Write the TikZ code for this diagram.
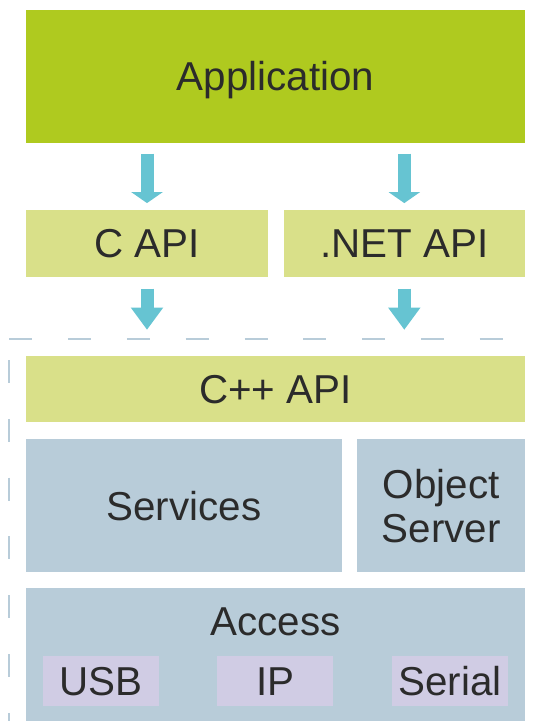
\documentclass[tikz,border=0pt]{standalone}
\usepackage{fontspec}
\setmainfont{Liberation Sans}
\usetikzlibrary{arrows.meta}
\definecolor{appgreen}{RGB}{175,202,31}
\definecolor{apigreen}{RGB}{217,224,137}
\definecolor{layerblue}{RGB}{184,204,217}
\definecolor{portlilac}{RGB}{208,204,228}
\definecolor{arrowblue}{RGB}{102,196,210}
\definecolor{textgray}{RGB}{43,43,43}
\tikzset{
  block/.style={rectangle, inner sep=0pt, text=textgray,
    font=\fontsize{40.5}{44.5}\selectfont, text height=29bp, text depth=0pt},
  api/.style={block, fill=apigreen},
  layer/.style={block, fill=layerblue},
  port/.style={block, fill=portlilac, minimum width=116bp, minimum height=49.7bp},
  flow/.style={draw=arrowblue, line width=13bp, -{Triangle[width=31bp,length=11bp]}},
  flowlong/.style={draw=arrowblue, line width=13bp, -{Triangle[width=31bp,length=22.3bp]}},
  frame/.style={draw=layerblue, line width=2.2bp, dash pattern=on 23bp off 35.8bp}
}
\begin{document}
\begin{tikzpicture}[x=1bp,y=-1bp]
  \useasboundingbox (0,0) rectangle (537,721);
  % top part
  \node[block, fill=appgreen, minimum width=499bp, minimum height=132.7bp] (app) at (275.5,76.35) {Application};
  \node[api, minimum width=242bp, minimum height=66.7bp] (capi) at (147,243.35) {C API};
  \node[api, minimum width=241.4bp, minimum height=66.7bp] (netapi) at (404.3,243.35) {.NET API};
  % library part
  \draw[frame] (9.3,339.3) -- (525,339.3);
  \draw[frame] (9,360) -- (9,721);
  \node[api, minimum width=499bp, minimum height=66.6bp] (cpp) at (275.5,389) {C++ API};
  \node[layer, minimum width=315.7bp, minimum height=133bp] (services) at (183.85,505.8) {Services};
  \node[layer, minimum width=167.7bp, minimum height=133bp, align=center, text height={}, text depth={}] (objserver) at (441.15,505.8) {Object\\Server};
  \node[layer, minimum width=499bp, text height=46.7bp, text depth=86bp] (access) at (275.5,654.65) {Access};
  \node[port] (usb) at (101,680.85) {USB};
  \node[port] (ip) at (275.3,680.85) {IP};
  \node[port] (serial) at (450,680.85) {Serial};
  % arrows
  \draw[flow, shorten <=10.6bp, shorten >=6.7bp] (capi.north |- app.south) -- (capi.north);
  \draw[flow, shorten <=10.6bp, shorten >=6.7bp] (netapi.north |- app.south) -- (netapi.north);
  \draw[flowlong, shorten <=11.6bp, shorten >=25.7bp] (capi.south) -- (capi.south |- cpp.north);
  \draw[flowlong, shorten <=11.6bp, shorten >=25.7bp] (netapi.south) -- (netapi.south |- cpp.north);
\end{tikzpicture}
\end{document}
